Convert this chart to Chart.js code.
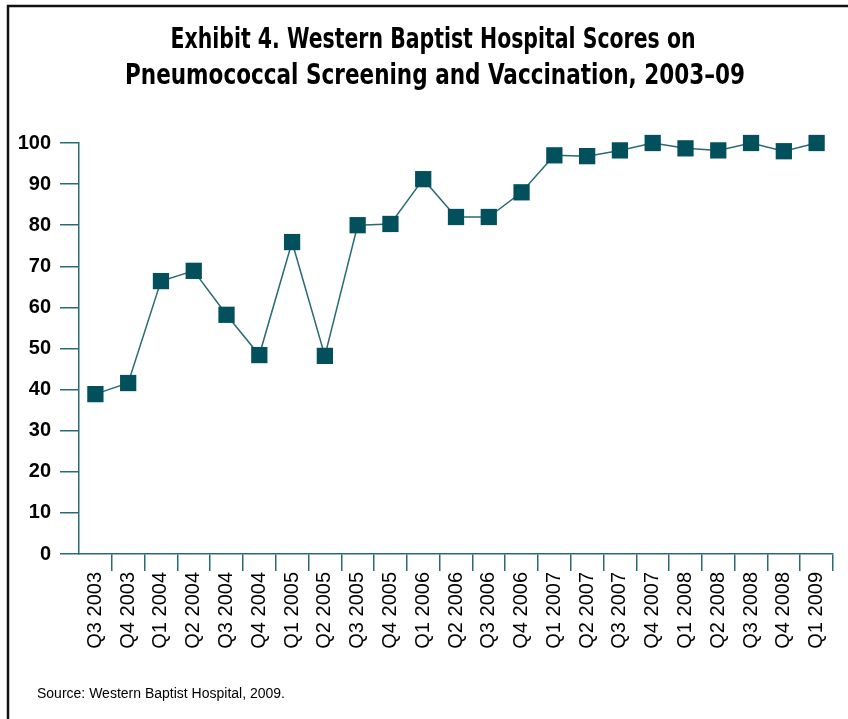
<!DOCTYPE html>
<html>
<head>
<meta charset="utf-8">
<script src="https://cdn.jsdelivr.net/npm/chart.js@4/dist/chart.umd.min.js"></script>
<style>
  html, body { margin: 0; padding: 0; background: #fff; }
  #wrap { width: 848px; height: 719px; position: relative; }
</style>
</head>
<body>
<div id="wrap"><canvas id="myChart" width="848" height="719"></canvas></div>
<script>
var quarters = ["Q3 2003", "Q4 2003", "Q1 2004", "Q2 2004", "Q3 2004", "Q4 2004",
  "Q1 2005", "Q2 2005", "Q3 2005", "Q4 2005", "Q1 2006", "Q2 2006", "Q3 2006",
  "Q4 2006", "Q1 2007", "Q2 2007", "Q3 2007", "Q4 2007", "Q1 2008", "Q2 2008",
  "Q3 2008", "Q4 2008", "Q1 2009"];
var scores = [38.9, 41.6, 66.4, 68.9, 58.2, 48.4, 75.9, 48.2, 80, 80.3, 91.2, 82, 82,
  88, 97, 96.8, 98.2, 100, 98.7, 98.2, 100, 98, 100];
var yTicks = [0, 10, 20, 30, 40, 50, 60, 70, 80, 90, 100];

var titleLines = ["Exhibit 4. Western Baptist Hospital Scores on",
  "Pneumococcal Screening and Vaccination, 2003\u201309"];
var sourceText = "Source: Western Baptist Hospital, 2009.";

var teal = "#2a6a72";
var markerColor = "#01505b";

// frame, title and source note
var decor = {
  id: "decor",
  afterDraw: function (chart) {
    var ctx = chart.ctx;
    ctx.save();
    ctx.strokeStyle = "#111";
    ctx.lineWidth = 2.5;
    ctx.beginPath();
    ctx.moveTo(8, 719);
    ctx.lineTo(8, 6);
    ctx.lineTo(848, 6);
    ctx.stroke();

    ctx.fillStyle = "#000";
    ctx.textAlign = "center";
    ctx.textBaseline = "alphabetic";
    // condensed look: squeeze the bold face into the measured line widths
    ctx.font = "bold 29px 'Liberation Sans Narrow', 'DejaVu Sans Condensed', sans-serif";
    ctx.fillText(titleLines[0], 433, 48, 525);
    ctx.fillText(titleLines[1], 435, 84, 620);

    ctx.textAlign = "left";
    ctx.font = "14px 'Liberation Sans', Arial, sans-serif";
    ctx.fillText(sourceText, 37, 698);
    ctx.restore();
  }
};

new Chart("myChart", {
  type: "line",
  data: {
    labels: quarters,
    datasets: [{
      data: scores,
      borderColor: teal,
      borderWidth: 1.5,
      pointStyle: "rect",
      pointRadius: 11.5,
      pointHoverRadius: 11.5,
      pointBackgroundColor: markerColor,
      pointBorderWidth: 0,
      tension: 0,
      clip: false
    }]
  },
  options: {
    responsive: false,
    animation: false,
    layout: { padding: { top: 143, right: 15, left: 0, bottom: 0 } },
    plugins: {
      legend: { display: false },
      tooltip: { enabled: false },
      title: { display: false }
    },
    scales: {
      x: {
        offset: true,
        grid: {
          offset: true,
          drawOnChartArea: false,
          drawTicks: true,
          tickLength: 17,
          lineWidth: 1.5,
          color: function (c) { return c.index === 0 ? "rgba(0,0,0,0)" : teal; }
        },
        border: { display: true, color: teal, width: 1.5 },
        ticks: {
          color: "#000",
          font: { family: "'Liberation Sans', Arial, sans-serif", size: 20 },
          minRotation: 90,
          maxRotation: 90,
          padding: 1,
          autoSkip: false
        },
        afterFit: function (s) { s.height = 165; }
      },
      y: {
        min: 0,
        max: 100,
        afterBuildTicks: function (s) {
          s.ticks = yTicks.map(function (v) { return { value: v }; });
        },
        grid: {
          drawOnChartArea: false,
          drawTicks: true,
          tickLength: 19,
          lineWidth: 1.5,
          color: teal
        },
        border: { display: true, color: teal, width: 1.5 },
        ticks: {
          color: "#000",
          font: { family: "'Liberation Sans', Arial, sans-serif", size: 20, weight: "bold" },
          padding: 9
        },
        afterFit: function (s) { s.width = 79; }
      }
    }
  },
  plugins: [decor]
});
</script>
</body>
</html>
